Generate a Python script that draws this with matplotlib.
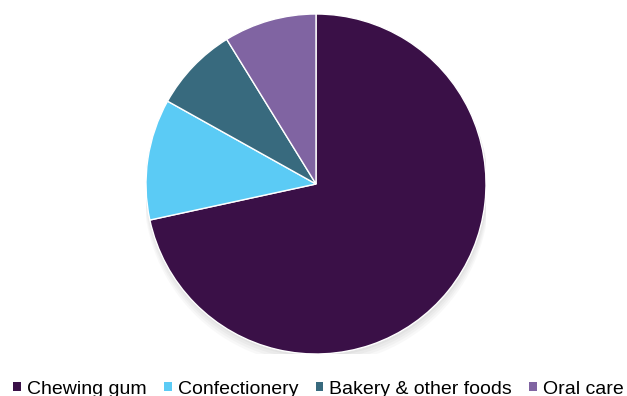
import matplotlib
matplotlib.use("Agg")
import matplotlib.pyplot as plt
from matplotlib.patches import Circle, Patch

categories = ["Chewing gum", "Confectionery", "Bakery & other foods", "Oral care"]
shares = [71.6, 11.5, 8.1, 8.8]
colors = ["#3a1047", "#5bcbf5", "#386a7e", "#8064a2"]

plt.rcParams["font.family"] = ["Liberation Sans", "DejaVu Sans"]

fig = plt.figure(figsize=(6.27, 3.96), dpi=100)
W, H = 627, 396
cx, cy, r = 316, 184, 170
ax = fig.add_axes([(cx - r) / W, (H - cy - r) / H, 2 * r / W, 2 * r / H])
ax.set_aspect("equal")
ax.axis("off")

# soft drop shadow under the pie
for i, a in enumerate([0.05, 0.05, 0.06, 0.07]):
    off = 0.012 * (4 - i)
    ax.add_patch(Circle((0.004, -off), 1.0 + 0.004 * (4 - i), color="#808080",
                        alpha=a, lw=0, zorder=0))

ax.pie(shares, colors=colors, startangle=90, counterclock=False, radius=1.0,
       wedgeprops=dict(edgecolor="white", linewidth=1.0), frame=False)
ax.set_xlim(-1.0, 1.0)
ax.set_ylim(-1.0, 1.0)

handles = [Patch(facecolor=c, edgecolor="none") for c in colors]
fig.legend(handles, categories, loc="center", bbox_to_anchor=(0.508, 7 / H),
           ncol=4, frameon=False, fontsize=14, handlelength=0.4, handleheight=0.4,
           handletextpad=0.3, columnspacing=0.9, borderpad=0)

fig.savefig("out.png", dpi=100)
